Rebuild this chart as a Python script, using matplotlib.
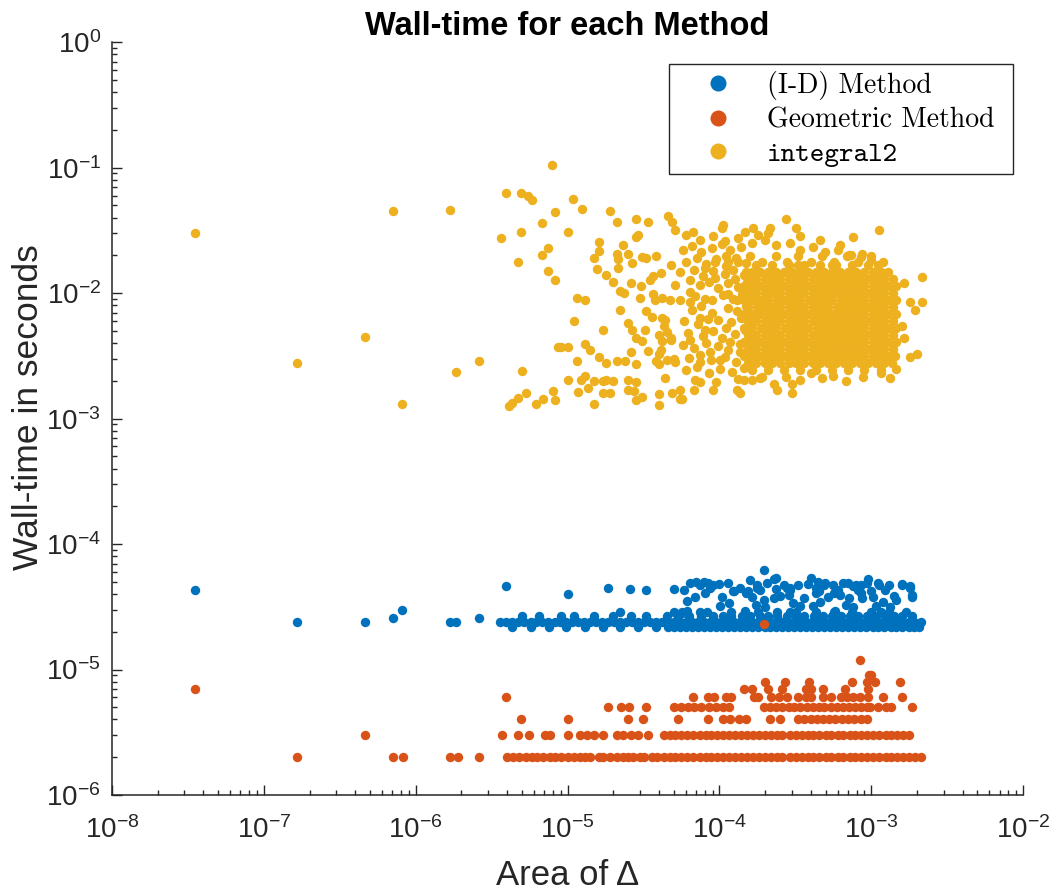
import matplotlib
matplotlib.use('Agg')
import matplotlib.pyplot as plt
from matplotlib.ticker import FixedLocator, LogFormatterSciNotation, NullFormatter

plt.rcParams['font.family'] = ['Liberation Sans', 'DejaVu Sans']
plt.rcParams['axes.unicode_minus'] = False

# ---------------- (I-D) Method ----------------
# loose points (outliers and the upper cloud between 3e-5 and 6e-5)
id_x = [3.5e-8, 1.66e-7, 4.6e-7, 7.1e-7, 8.1e-7, 1.67e-6, 1.85e-6, 2.6e-6, 3.9e-6,
        1.0e-5, 1.84e-5, 2.56e-5, 3.3e-5, 5.0e-5, 5.8e-5, 6.4e-5, 7.5e-5, 8.7e-5, 1.0e-4, 1.13e-4,
        6.1e-5, 1.25e-4, 1.15e-4, 1.6e-4, 1.95e-4, 1.55e-4, 1.78e-4, 1.95e-4, 2.3e-4, 2.35e-4,
        2.65e-4, 2.9e-4, 3.05e-4, 3.3e-4, 3.8e-4, 4.0e-4, 4.3e-4, 4.6e-4, 4.85e-4, 5.6e-4,
        6.2e-4, 7.0e-4, 7.6e-4, 8.5e-4, 9.5e-4, 8.7e-4, 1.12e-3, 1.3e-3, 1.2e-3, 1.6e-3,
        1.8e-3, 1.85e-3, 5.7e-5, 6.1e-5,
        7.0e-5, 7.9e-5, 8.4e-5, 9.1e-5, 1.23e-4, 1.78e-4, 1.5e-4, 2.05e-4, 2.3e-4, 2.35e-4,
        2.8e-4, 2.85e-4, 4.45e-4, 4.5e-4, 4.95e-4, 5.65e-4, 6.5e-4, 7.9e-4, 8.5e-4, 9.3e-4,
        1.0e-3, 1.1e-3, 1.6e-3, 1.8e-3, 1.85e-3,
        1.75e-4, 3.4e-4, 6.8e-4, 1.07e-3, 1.45e-3,
        6.93e-5, 8.06e-5, 1.04e-4, 1.37e-4, 1.65e-4, 1.86e-4, 2.5e-4, 2.9e-4, 3.6e-4, 4.3e-4,
        5.2e-4, 6.05e-4, 7.1e-4, 8.2e-4, 1.03e-3, 1.23e-3, 1.4e-3, 1.01e-4, 1.98e-4, 4.1e-4,
        7.6e-4, 1.33e-3, 7.47e-5, 1.48e-4, 2.9e-4, 5.8e-4, 1.15e-3]
id_y = [4.3e-5, 2.4e-5, 2.4e-5, 2.6e-5, 3.0e-5, 2.4e-5, 2.4e-5, 2.6e-5, 4.6e-5,
        4.0e-5, 4.5e-5, 4.4e-5, 4.3e-5, 4.4e-5, 4.3e-5, 4.9e-5, 4.7e-5, 4.5e-5, 4.8e-5, 4.9e-5,
        3.5e-5, 4.2e-5, 3.4e-5, 5.2e-5, 6.2e-5, 4.2e-5, 4.5e-5, 3.6e-5, 3.7e-5, 5.4e-5,
        4.7e-5, 4.5e-5, 3.4e-5, 4.7e-5, 4.8e-5, 5.4e-5, 4.1e-5, 3.45e-5, 4.7e-5, 4.7e-5,
        3.9e-5, 4.9e-5, 4.6e-5, 4.7e-5, 5.3e-5, 3.7e-5, 4.7e-5, 4.7e-5, 3.45e-5, 4.7e-5,
        4.5e-5, 3.8e-5, 2.85e-5, 2.95e-5,
        5.0e-5, 5.0e-5, 4.9e-5, 4.7e-5, 4.2e-5, 4.7e-5, 4.1e-5, 4.9e-5, 5.3e-5, 4.4e-5,
        4.5e-5, 3.9e-5, 5.0e-5, 4.2e-5, 4.9e-5, 4.1e-5, 4.9e-5, 4.7e-5, 4.1e-5, 4.9e-5,
        4.2e-5, 4.9e-5, 4.8e-5, 4.6e-5, 3.9e-5,
        3.3e-5, 3.2e-5, 3.3e-5, 3.2e-5, 3.6e-5,
        3.78e-5, 4.1e-5, 3.78e-5, 4.46e-5, 3.78e-5, 4.3e-5, 3.85e-5, 4.3e-5, 3.71e-5, 4.46e-5,
        3.78e-5, 4.3e-5, 3.71e-5, 4.3e-5, 3.78e-5, 4.3e-5, 3.85e-5, 3.2e-5, 3.15e-5, 3.2e-5,
        3.15e-5, 3.15e-5, 2.88e-5, 2.94e-5, 2.88e-5, 2.94e-5, 2.88e-5]
# the dense band around 2.4e-5
id_band_mid_x = [3.6e-6, 3.9e-6, 4.3e-6, 4.7e-6, 5.2e-6, 5.7e-6, 6.2e-6, 6.8e-6, 7.4e-6, 8.2e-6,
                 8.9e-6, 9.8e-6, 1.07e-5, 1.17e-5, 1.29e-5, 1.41e-5, 1.54e-5, 1.69e-5, 1.85e-5,
                 2.03e-5, 2.22e-5, 2.43e-5, 2.66e-5, 2.92e-5, 3.2e-5, 3.5e-5, 3.83e-5, 4.2e-5,
                 4.6e-5, 5.04e-5, 5.52e-5, 6.04e-5, 6.62e-5, 7.25e-5, 7.94e-5, 8.7e-5, 9.53e-5,
                 1.04e-4, 1.14e-4, 1.25e-4, 1.37e-4, 1.5e-4, 1.65e-4, 1.8e-4, 1.98e-4, 2.16e-4,
                 2.37e-4, 2.6e-4, 2.84e-4, 3.11e-4, 3.41e-4, 3.74e-4, 4.09e-4, 4.48e-4, 4.91e-4,
                 5.38e-4, 5.89e-4, 6.45e-4, 7.07e-4, 7.74e-4, 8.48e-4, 9.28e-4, 1.02e-3, 1.11e-3,
                 1.22e-3, 1.34e-3, 1.46e-3, 1.6e-3, 1.76e-3, 1.92e-3, 2.11e-3]
id_band_low_x = [4.3e-6, 5.7e-6, 7.5e-6, 9.8e-6, 1.3e-5, 1.7e-5, 2.2e-5, 2.9e-5, 3.8e-5, 4.6e-5,
                 5.0e-5, 5.5e-5, 6.0e-5, 6.6e-5, 7.2e-5, 7.9e-5, 8.7e-5, 9.5e-5, 1.04e-4, 1.14e-4,
                 1.25e-4, 1.37e-4, 1.5e-4, 1.65e-4, 1.8e-4, 1.98e-4, 2.16e-4, 2.37e-4, 2.6e-4,
                 2.84e-4, 3.11e-4, 3.41e-4, 3.74e-4, 4.09e-4, 4.48e-4, 4.91e-4, 5.38e-4, 5.89e-4,
                 6.45e-4, 7.07e-4, 7.74e-4, 8.48e-4, 9.28e-4, 1.02e-3, 1.11e-3, 1.22e-3, 1.34e-3,
                 1.46e-3, 1.6e-3, 1.76e-3, 1.92e-3, 2.05e-3]
id_band_high_x = [5.0e-6, 6.5e-6, 9.0e-6, 1.1e-5, 1.5e-5, 2.0e-5, 2.6e-5, 3.3e-5, 4.5e-5, 5.3e-5,
                  6.3e-5, 7.6e-5, 9.0e-5, 1.05e-4, 1.2e-4, 1.4e-4, 1.6e-4, 1.85e-4, 2.1e-4, 2.4e-4,
                  2.8e-4, 3.2e-4, 3.6e-4, 4.2e-4, 4.8e-4, 5.5e-4, 6.3e-4, 7.2e-4, 8.2e-4, 9.4e-4,
                  1.07e-3, 1.23e-3, 1.4e-3, 1.6e-3, 1.85e-3]
id_band_top_x = [2.2e-5, 5.0e-5, 5.7e-5, 8.3e-5, 1.2e-4, 1.8e-4, 2.4e-4, 3.2e-4, 4.3e-4, 5.7e-4,
                 7.5e-4, 1.0e-3, 1.3e-3, 1.7e-3]
id_band_y = [2.4e-5, 2.2e-5, 2.65e-5, 2.9e-5]   # mid, low, high, top

# ---------------- Geometric Method (values sit on 1e-6 steps) ----------------
geo_2_x = [1.66e-7, 7.1e-7, 8.2e-7, 1.69e-6, 1.9e-6, 2.6e-6,
           4.0e-6, 4.4e-6, 4.8e-6, 5.3e-6, 5.8e-6, 6.3e-6, 6.9e-6, 7.6e-6, 8.3e-6, 9.1e-6,
           1.0e-5, 1.1e-5, 1.2e-5, 1.3e-5, 1.4e-5, 1.6e-5, 1.7e-5, 1.9e-5, 2.1e-5, 2.3e-5,
           2.5e-5, 2.7e-5, 3.0e-5, 3.2e-5, 3.6e-5, 3.9e-5, 4.3e-5, 4.7e-5, 5.1e-5, 5.6e-5,
           6.1e-5, 6.7e-5, 7.4e-5, 8.1e-5, 8.8e-5, 9.7e-5, 1.06e-4, 1.16e-4, 1.27e-4, 1.39e-4,
           1.52e-4, 1.67e-4, 1.83e-4, 2.0e-4, 2.2e-4, 2.4e-4, 2.6e-4, 2.9e-4, 3.2e-4, 3.5e-4,
           3.8e-4, 4.1e-4, 4.5e-4, 5.0e-4, 5.4e-4, 6.0e-4, 6.5e-4, 7.2e-4, 7.8e-4, 8.6e-4,
           9.4e-4, 1.03e-3, 1.13e-3, 1.24e-3, 1.35e-3, 1.48e-3, 1.62e-3, 1.78e-3, 1.95e-3, 2.13e-3]
geo_3_x = [4.6e-7, 3.7e-6, 4.7e-6, 5.6e-6, 7.1e-6, 7.7e-6, 1.0e-5, 1.2e-5, 1.35e-5, 1.5e-5,
           1.7e-5, 2.1e-5, 2.3e-5, 2.6e-5, 2.9e-5, 3.4e-5, 4.3e-5, 4.7e-5, 5.1e-5, 5.6e-5,
           6.1e-5, 6.7e-5, 7.4e-5, 8.1e-5, 8.8e-5, 9.7e-5, 1.06e-4, 1.16e-4, 1.27e-4, 1.39e-4,
           1.52e-4, 1.67e-4, 1.83e-4, 2.0e-4, 2.2e-4, 2.4e-4, 2.6e-4, 2.9e-4, 3.2e-4, 3.5e-4,
           3.8e-4, 4.1e-4, 4.5e-4, 5.0e-4, 5.4e-4, 6.0e-4, 6.5e-4, 7.2e-4, 7.8e-4, 8.6e-4,
           9.4e-4, 1.03e-3, 1.13e-3, 1.24e-3, 1.35e-3, 1.48e-3, 1.62e-3, 1.78e-3]
geo_4_x = [4.9e-6, 1.0e-5, 2.5e-5, 3.15e-5, 5.3e-5, 8.4e-5, 1.05e-4, 1.18e-4, 1.35e-4, 1.5e-4,
           2.16e-4, 2.5e-4, 3.3e-4, 3.6e-4, 4.0e-4, 4.4e-4, 4.8e-4, 5.3e-4, 5.8e-4, 6.4e-4,
           7.0e-4, 7.7e-4, 8.5e-4, 9.4e-4]
geo_5_x = [1.85e-5, 2.25e-5, 2.55e-5, 3.3e-5, 5.0e-5, 5.6e-5, 6.2e-5, 6.8e-5, 7.6e-5, 8.5e-5,
           9.5e-5, 1.05e-4, 1.16e-4, 1.95e-4, 2.15e-4, 2.35e-4, 2.6e-4, 2.85e-4, 3.1e-4, 3.4e-4,
           3.75e-4, 4.1e-4, 4.5e-4, 4.9e-4, 5.4e-4, 5.9e-4, 6.5e-4, 7.1e-4, 7.8e-4, 8.5e-4,
           9.3e-4, 9.8e-4, 1.1e-3, 1.25e-3, 1.35e-3, 1.85e-3]
geo_6_x = [3.9e-6, 6.7e-5, 8.4e-5, 9.2e-5, 1.1e-4, 1.2e-4, 1.7e-4, 1.8e-4, 2.2e-4, 2.45e-4,
           2.8e-4, 3.3e-4, 3.7e-4, 4.0e-4, 4.8e-4, 5.4e-4, 6.3e-4, 6.9e-4, 7.6e-4, 8.4e-4,
           9.5e-4, 1.2e-3, 1.6e-3]
geo_7_x = [3.5e-8, 1.45e-4, 1.65e-4, 2.1e-4, 2.6e-4, 3.7e-4, 4.0e-4, 4.8e-4, 6.7e-4, 9.5e-4]
geo_8_x = [2.0e-4, 2.7e-4, 3.9e-4, 7.5e-4, 9.3e-4, 1.05e-3, 1.55e-3]
geo_9_x = [9.6e-4, 1.0e-3]
geo_levels = [2e-6, 3e-6, 4e-6, 5e-6, 6e-6, 7e-6, 8e-6, 9e-6]
geo_extra_x = [8.4e-4, 1.95e-4]
geo_extra_y = [1.2e-5, 2.3e-5]

# ---------------- integral2 ----------------
int_x = [3.5e-8, 1.66e-7, 4.6e-7, 7.1e-7, 8.1e-7, 1.67e-6, 1.85e-6, 2.6e-6, 3.66e-6, 3.9e-6,
         4.9e-6, 4.9e-6, 4.7e-6, 5.0e-6, 5.5e-6, 5.8e-6, 7.9e-6, 6.8e-6, 7.4e-6, 6.8e-6,
         7.4e-6, 8.2e-6, 8.2e-6, 8.6e-6, 4.1e-6, 4.3e-6, 4.7e-6, 5.3e-6, 6.2e-6, 6.9e-6,
         8.0e-6, 8.3e-6, 1.09e-5, 1.24e-5, 1.89e-5, 2.1e-5, 2.8e-5, 3.4e-5, 4.6e-5, 4.9e-5,
         5.1e-5, 6.0e-5, 1.0e-5, 2.9e-5, 2.8e-5, 1.6e-5, 1.6e-5, 1.5e-5, 1.55e-5, 2.3e-5,
         2.1e-5, 2.15e-5, 2.15e-5, 2.5e-5, 2.65e-5, 3.1e-5, 3.3e-5, 3.8e-5, 1.8e-5, 2.0e-5,
         2.6e-5, 3.05e-5, 2.2e-5, 2.35e-5, 3.65e-5, 4.1e-5, 1.15e-5, 1.3e-5, 3.0e-5, 3.65e-5,
         4.2e-5, 4.7e-5, 2.2e-5, 3.3e-5, 3.6e-5, 1.1e-5, 1.72e-5, 2.5e-5, 2.65e-5, 2.8e-5,
         3.1e-5, 4.2e-5, 4.3e-5, 4.5e-5, 4.0e-5, 4.2e-5, 4.8e-5, 9.0e-6, 1.0e-5, 1.3e-5,
         1.4e-5, 1.16e-5, 1.6e-5, 1.8e-5, 2.1e-5, 2.4e-5, 2.6e-5, 2.8e-5, 3.4e-5, 4.0e-5,
         3.8e-5, 4.0e-5, 4.5e-5, 5.0e-5, 1.0e-5, 1.22e-5, 1.3e-5, 1.37e-5, 1.5e-5, 1.7e-5,
         1.8e-5, 2.0e-5, 1.17e-5, 1.7e-5, 1.9e-5, 1.5e-5, 2.5e-5, 2.8e-5, 2.5e-5, 2.75e-5,
         2.8e-5, 3.1e-5, 4.0e-5, 4.0e-5, 4.85e-5, 5.5e-5, 5.5e-5,
         2.76e-4, 1.12e-3, 7.6e-4, 1.06e-4, 1.04e-4, 1.67e-4, 2.1e-4, 1.8e-4, 3.2e-4, 8.7e-4,
         7.4e-4, 2.16e-3, 1.65e-3, 2.16e-3, 1.8e-3, 1.93e-3, 1.6e-3, 1.65e-3, 2.0e-3, 1.8e-3,
         1.45e-3, 4.0e-4, 5.6e-4, 3.0e-4, 2.3e-4, 2.4e-4, 1.3e-4, 1.37e-4, 3.0e-4, 9.0e-5,
         6.8e-5, 7.5e-5, 5.7e-5, 1.45e-4, 1.65e-4, 1.9e-4,
         7.5e-5, 9.0e-5, 1.09e-4, 1.33e-4, 1.65e-4, 1.98e-4, 2.35e-4, 2.9e-4, 3.4e-4, 4.1e-4,
         4.95e-4, 6.05e-4, 7.1e-4, 8.5e-4, 1.0e-3, 6.7e-5, 1.48e-4, 2.16e-4, 3.4e-4, 4.6e-4,
         6.2e-4,
         1.86e-4, 2.75e-4, 3.4e-4, 4.75e-4, 6.8e-4, 8.8e-4, 1.15e-3, 1.33e-3,
         5.77e-5, 6.62e-5, 7.59e-5, 8.97e-5, 1.04e-4, 1.18e-4, 1.39e-4, 6.04e-5, 7.14e-5, 8.18e-5,
         9.53e-5, 1.13e-4, 1.29e-4, 1.5e-4, 5.52e-5, 6.82e-5, 7.82e-5, 9.1e-5, 1.08e-4, 1.23e-4,
         1.46e-4, 7.47e-5, 8.57e-5, 9.82e-5, 1.14e-4, 1.33e-4, 1.52e-4, 6.93e-5, 8.06e-5, 1.06e-4,
         1.23e-4, 1.41e-4, 6.62e-5, 7.59e-5, 8.97e-5, 1.13e-4, 1.31e-4, 1.5e-4, 5.86e-5, 7.25e-5,
         8.44e-5, 1.2e-4, 1.39e-4, 6.23e-5, 7.82e-5, 9.1e-5, 1.04e-4, 1.27e-4, 1.48e-4, 5.77e-5,
         6.82e-5, 8.18e-5, 9.82e-5, 1.14e-4, 1.37e-4, 6.32e-5, 7.47e-5, 8.83e-5, 1.08e-4, 1.29e-4,
         1.5e-4, 6.04e-5, 7.14e-5, 8.57e-5, 1.01e-4, 1.21e-4, 1.46e-4, 6.93e-5, 9.53e-5, 1.33e-4,
         1.1e-4, 1.6e-4, 2.35e-4, 3.3e-4, 4.75e-4, 6.9e-4, 1.0e-3,
         9.4e-5, 1.33e-4, 1.9e-4, 2.8e-4, 4.0e-4, 5.7e-4, 8.2e-4, 1.2e-3,
         6.4e-5, 8.06e-5, 9.4e-5, 1.1e-4, 1.27e-4, 1.48e-4, 6.4e-5, 8.97e-5, 1.14e-4, 7.47e-5,
         9.82e-5, 1.31e-4, 1.48e-4, 6.4e-5, 8.7e-5, 1.18e-4, 1.48e-4, 7.47e-5, 1.01e-4, 1.37e-4,
         8.06e-5, 1.1e-4, 6.4e-5, 5.52e-5, 5.1e-5, 4.8e-5, 4.4e-5, 4.1e-5, 4.8e-5, 5.1e-5,
         4.4e-5, 3.78e-5, 3.5e-5, 3.24e-5]
int_y = [3.0e-2, 2.8e-3, 4.5e-3, 4.5e-2, 1.3e-3, 4.6e-2, 2.35e-3, 2.9e-3, 2.74e-2, 6.3e-2,
         6.3e-2, 3.06e-2, 1.77e-2, 2.4e-3, 6.0e-2, 5.5e-2, 0.105, 3.6e-2, 2.3e-2, 2.0e-2,
         1.5e-2, 1.28e-2, 4.4e-2, 3.7e-3, 1.27e-3, 1.33e-3, 1.45e-3, 1.6e-3, 1.3e-3, 1.44e-3,
         1.65e-3, 1.4e-3, 5.6e-2, 4.7e-2, 4.5e-2, 3.7e-2, 3.9e-2, 3.7e-2, 4.1e-2, 3.7e-2,
         3.2e-2, 2.9e-2, 3.06e-2, 2.9e-2, 2.8e-2, 2.55e-2, 2.16e-2, 1.92e-2, 1.57e-2, 2.4e-2,
         2.04e-2, 1.88e-2, 1.6e-2, 2.04e-2, 1.73e-2, 1.93e-2, 1.92e-2, 1.98e-2, 1.4e-2, 1.22e-2,
         1.2e-2, 1.14e-2, 1.05e-2, 1.0e-2, 1.38e-2, 1.44e-2, 9.2e-3, 8.8e-3, 9.2e-3, 9.9e-3,
         9.2e-3, 8.8e-3, 7.3e-3, 7.2e-3, 6.5e-3, 6.0e-3, 5.1e-3, 5.8e-3, 5.1e-3, 4.4e-3,
         4.15e-3, 6.3e-3, 5.5e-3, 4.9e-3, 4.6e-3, 4.15e-3, 4.4e-3, 3.7e-3, 3.7e-3, 3.9e-3,
         3.5e-3, 2.9e-3, 3.1e-3, 2.8e-3, 2.9e-3, 2.9e-3, 3.4e-3, 2.75e-3, 3.45e-3, 3.3e-3,
         2.9e-3, 2.75e-3, 2.95e-3, 3.0e-3, 2.05e-3, 2.05e-3, 2.2e-3, 1.75e-3, 2.0e-3, 2.0e-3,
         2.05e-3, 2.0e-3, 1.62e-3, 1.6e-3, 1.6e-3, 1.3e-3, 2.05e-3, 1.95e-3, 1.7e-3, 1.65e-3,
         1.4e-3, 1.48e-3, 1.58e-3, 1.28e-3, 1.6e-3, 1.7e-3, 1.43e-3,
         3.9e-2, 3.2e-2, 2.8e-2, 3.5e-2, 3.3e-2, 3.3e-2, 3.0e-2, 2.9e-2, 3.3e-2, 2.05e-2,
         2.0e-2, 1.35e-2, 1.2e-2, 8.5e-3, 8.5e-3, 7.3e-3, 5.5e-3, 4.4e-3, 3.3e-3, 3.1e-3,
         2.5e-3, 2.3e-3, 2.2e-3, 1.6e-3, 1.9e-3, 1.7e-3, 1.7e-3, 1.6e-3, 1.9e-3, 1.7e-3,
         1.7e-3, 1.95e-3, 1.43e-3, 2.05e-3, 2.05e-3, 2.15e-3,
         2.65e-2, 2.86e-2, 2.61e-2, 2.75e-2, 2.5e-2, 2.65e-2, 2.4e-2, 2.5e-2, 2.2e-2, 2.33e-2,
         2.12e-2, 2.2e-2, 2.02e-2, 1.94e-2, 1.85e-2, 3.07e-2, 3.07e-2, 3.3e-2, 2.86e-2, 2.65e-2,
         2.4e-2,
         2.1e-3, 2.16e-3, 2.03e-3, 2.1e-3, 2.0e-3, 2.16e-3, 2.3e-3, 2.1e-3,
         2.2e-2, 2.37e-2, 2.12e-2, 2.28e-2, 2.46e-2, 2.2e-2, 2.33e-2, 1.77e-2, 1.9e-2, 1.7e-2,
         1.87e-2, 1.77e-2, 1.9e-2, 1.73e-2, 1.47e-2, 1.53e-2, 1.37e-2, 1.5e-2, 1.42e-2, 1.53e-2,
         1.39e-2, 1.16e-2, 1.22e-2, 1.1e-2, 1.2e-2, 1.12e-2, 1.22e-2, 9.5e-3, 8.96e-3, 9.6e-3,
         8.96e-3, 9.8e-3, 7.32e-3, 7.88e-3, 6.93e-3, 7.6e-3, 7.19e-3, 7.88e-3, 5.98e-3, 5.66e-3,
         6.21e-3, 5.87e-3, 6.32e-3, 4.8e-3, 4.54e-3, 4.98e-3, 4.38e-3, 4.71e-3, 5.07e-3, 3.85e-3,
         3.65e-3, 4.0e-3, 3.78e-3, 3.51e-3, 3.92e-3, 3.03e-3, 3.21e-3, 2.93e-3, 3.09e-3, 2.82e-3,
         3.15e-3, 2.43e-3, 2.57e-3, 2.3e-3, 2.48e-3, 2.35e-3, 2.53e-3, 2.03e-3, 1.95e-3, 2.06e-3,
         1.97e-2, 1.97e-2, 1.97e-2, 1.97e-2, 1.97e-2, 1.97e-2, 1.97e-2,
         1.77e-2, 1.77e-2, 1.77e-2, 1.77e-2, 1.77e-2, 1.77e-2, 1.77e-2, 1.77e-2,
         1.28e-2, 1.58e-2, 1.32e-2, 1.64e-2, 1.29e-2, 1.03e-2, 1.03e-2, 8.8e-3, 9.9e-3, 6.32e-3,
         6.1e-3, 8.8e-3, 6.32e-3, 4.22e-3, 3.39e-3, 4.1e-3, 4.1e-3, 2.82e-3, 2.93e-3, 3.39e-3,
         5.07e-3, 5.26e-3, 8.48e-3, 8.8e-3, 1.16e-2, 1.67e-2, 6.1e-3, 3.51e-3, 4.22e-3, 2.82e-3,
         2.1e-3, 8.8e-3, 1.28e-2, 5.07e-3]
# solid core of the cloud, read row by row
int_core_y = [1.67e-2, 1.47e-2, 1.29e-2, 1.14e-2, 1.0e-2, 8.8e-3, 7.7e-3, 6.8e-3,
              6.0e-3, 5.3e-3, 4.6e-3, 4.1e-3, 3.6e-3, 3.15e-3, 2.77e-3, 2.43e-3]
int_core_x = [
    [1.75e-4, 2.23e-4, 2.85e-4, 3.3e-4, 3.63e-4, 4.62e-4, 5.5e-4, 5.89e-4, 7.51e-4, 9.57e-4, 1.1e-3],
    [1.5e-4, 1.65e-4, 1.86e-4, 2.1e-4, 2.37e-4, 2.68e-4, 3.02e-4, 3.41e-4, 3.85e-4, 4.35e-4,
     4.91e-4, 5.54e-4, 6.26e-4, 7.06e-4, 7.97e-4, 9.0e-4, 1.02e-3, 1.15e-3, 1.29e-3],
    [1.55e-4, 1.75e-4, 1.98e-4, 2.23e-4, 2.52e-4, 2.85e-4, 3.21e-4, 3.63e-4, 4.1e-4, 4.62e-4,
     5.22e-4, 5.89e-4, 6.65e-4, 7.51e-4, 8.48e-4, 9.57e-4, 1.08e-3, 1.22e-3, 1.38e-3],
    [1.46e-4, 1.65e-4, 1.86e-4, 2.1e-4, 2.37e-4, 2.68e-4, 3.02e-4, 3.41e-4, 3.85e-4, 4.35e-4,
     4.91e-4, 5.54e-4, 6.26e-4, 7.06e-4, 7.97e-4, 9.0e-4, 1.02e-3, 1.15e-3, 1.29e-3, 1.46e-3],
    [1.55e-4, 1.75e-4, 1.98e-4, 2.23e-4, 2.52e-4, 2.85e-4, 3.21e-4, 3.63e-4, 4.1e-4, 4.62e-4,
     5.22e-4, 5.89e-4, 6.65e-4, 7.51e-4, 8.48e-4, 9.57e-4, 1.08e-3, 1.22e-3, 1.38e-3],
    [1.46e-4, 1.64e-4, 1.86e-4, 2.1e-4, 2.38e-4, 2.68e-4, 3.0e-4, 3.41e-4, 3.86e-4, 4.35e-4,
     4.9e-4, 5.54e-4, 6.3e-4, 7.06e-4, 7.97e-4, 9.0e-4, 1.02e-3, 1.15e-3, 1.3e-3, 1.46e-3],
    [1.55e-4, 1.76e-4, 1.98e-4, 2.22e-4, 2.52e-4, 2.86e-4, 3.21e-4, 3.62e-4, 4.1e-4, 4.6e-4,
     5.22e-4, 5.9e-4, 6.65e-4, 7.5e-4, 8.48e-4, 9.57e-4, 1.08e-3, 1.22e-3, 1.38e-3],
    [1.46e-4, 1.65e-4, 1.86e-4, 2.1e-4, 2.37e-4, 2.68e-4, 3.02e-4, 3.41e-4, 3.85e-4, 4.35e-4,
     4.91e-4, 5.54e-4, 6.26e-4, 7.06e-4, 7.97e-4, 9.0e-4, 1.02e-3, 1.15e-3, 1.29e-3, 1.46e-3],
    [1.55e-4, 1.75e-4, 1.98e-4, 2.23e-4, 2.52e-4, 2.85e-4, 3.21e-4, 3.63e-4, 4.1e-4, 4.62e-4,
     5.22e-4, 5.89e-4, 6.65e-4, 7.51e-4, 8.48e-4, 9.57e-4, 1.08e-3, 1.22e-3, 1.38e-3],
    [1.46e-4, 1.65e-4, 1.87e-4, 2.1e-4, 2.37e-4, 2.69e-4, 3.02e-4, 3.4e-4, 3.85e-4, 4.36e-4,
     4.91e-4, 5.55e-4, 6.26e-4, 7.05e-4, 7.97e-4, 9.0e-4, 1.02e-3, 1.15e-3, 1.29e-3, 1.45e-3],
    [1.55e-4, 1.75e-4, 1.98e-4, 2.23e-4, 2.52e-4, 2.85e-4, 3.21e-4, 3.63e-4, 4.1e-4, 4.62e-4,
     5.22e-4, 5.89e-4, 6.65e-4, 7.51e-4, 8.48e-4, 9.57e-4, 1.08e-3, 1.22e-3, 1.38e-3],
    [1.46e-4, 1.65e-4, 1.86e-4, 2.1e-4, 2.37e-4, 2.68e-4, 3.02e-4, 3.41e-4, 3.85e-4, 4.35e-4,
     4.91e-4, 5.54e-4, 6.26e-4, 7.06e-4, 7.97e-4, 9.0e-4, 1.02e-3, 1.15e-3, 1.29e-3, 1.46e-3],
    [1.55e-4, 1.75e-4, 1.98e-4, 2.23e-4, 2.52e-4, 2.85e-4, 3.21e-4, 3.63e-4, 4.1e-4, 4.62e-4,
     5.22e-4, 5.89e-4, 6.65e-4, 7.51e-4, 8.48e-4, 9.57e-4, 1.08e-3, 1.22e-3, 1.38e-3],
    [1.46e-4, 1.65e-4, 1.86e-4, 2.1e-4, 2.37e-4, 2.68e-4, 3.02e-4, 3.41e-4, 3.85e-4, 4.35e-4,
     4.91e-4, 5.54e-4, 6.26e-4, 7.06e-4, 7.97e-4, 9.0e-4, 1.02e-3, 1.15e-3, 1.29e-3, 1.44e-3],
    [1.55e-4, 1.75e-4, 1.98e-4, 2.23e-4, 2.52e-4, 2.85e-4, 3.21e-4, 3.63e-4, 4.1e-4, 4.62e-4,
     5.22e-4, 5.89e-4, 6.65e-4, 7.51e-4, 8.48e-4, 9.57e-4, 1.08e-3, 1.22e-3, 1.36e-3],
    [1.65e-4, 2.1e-4, 2.68e-4, 3.41e-4, 4.35e-4, 5.54e-4, 7.06e-4, 9.0e-4, 1.15e-3],
]

labels = ['(I-D) Method', 'Geometric Method', 'integral2']
label_fonts = ['cmr10', 'cmr10', 'cmtt10']
colors = ['#0072BD', '#D95319', '#EDB120']
x_ticks = [1e-8, 1e-7, 1e-6, 1e-5, 1e-4, 1e-3, 1e-2]
y_ticks = [1e-6, 1e-5, 1e-4, 1e-3, 1e-2, 1e-1, 1e0]

# assemble each series
id_all_x = id_x + id_band_mid_x + id_band_low_x + id_band_high_x + id_band_top_x
id_all_y = (id_y + [id_band_y[0]] * len(id_band_mid_x) + [id_band_y[1]] * len(id_band_low_x)
            + [id_band_y[2]] * len(id_band_high_x) + [id_band_y[3]] * len(id_band_top_x))

geo_all_x, geo_all_y = [], []
for lvl, xs in zip(geo_levels, [geo_2_x, geo_3_x, geo_4_x, geo_5_x, geo_6_x,
                                geo_7_x, geo_8_x, geo_9_x]):
    geo_all_x += xs
    geo_all_y += [lvl] * len(xs)
geo_all_x += geo_extra_x
geo_all_y += geo_extra_y

int_all_x, int_all_y = list(int_x), list(int_y)
for yv, xs in zip(int_core_y, int_core_x):
    int_all_x += xs
    int_all_y += [yv] * len(xs)

fig = plt.figure(figsize=(10.57, 8.93), dpi=100)
ax = fig.add_axes([0.106, 0.1097, 0.862, 0.843])

dot = 46
ax.scatter(id_all_x, id_all_y, s=dot, c=colors[0], linewidths=0, label=labels[0])
ax.scatter(geo_all_x, geo_all_y, s=dot, c=colors[1], linewidths=0, label=labels[1])
ax.scatter(int_all_x, int_all_y, s=dot, c=colors[2], linewidths=0, label=labels[2])

ax.set_xscale('log')
ax.set_yscale('log')
ax.set_xlim(x_ticks[0], x_ticks[-1])
ax.set_ylim(y_ticks[0], y_ticks[-1])

# major ticks only at the decades inside the axes, minor ticks at 2..9 of each decade
ax.xaxis.set_major_locator(FixedLocator(x_ticks))
ax.yaxis.set_major_locator(FixedLocator(y_ticks))
ax.xaxis.set_major_formatter(LogFormatterSciNotation())
ax.yaxis.set_major_formatter(LogFormatterSciNotation())
ax.xaxis.set_minor_locator(FixedLocator([m * d for d in x_ticks[:-1] for m in range(2, 10)]))
ax.yaxis.set_minor_locator(FixedLocator([m * d for d in y_ticks[:-1] for m in range(2, 10)]))
ax.xaxis.set_minor_formatter(NullFormatter())
ax.yaxis.set_minor_formatter(NullFormatter())

for side in ['top', 'right']:
    ax.spines[side].set_visible(False)
for side in ['left', 'bottom']:
    ax.spines[side].set_color('#262626')
    ax.spines[side].set_linewidth(1.1)

ax.tick_params(which='both', direction='in', colors='#262626', width=1.0,
               top=False, right=False)
ax.tick_params(which='major', length=7, labelsize=20)
ax.tick_params(which='minor', length=3.6)
ax.tick_params(axis='x', which='major', pad=15)
ax.tick_params(axis='y', which='major', pad=8)

ax.set_title('Wall-time for each Method', fontsize=23.5, fontweight='bold',
             color='#000000', pad=5)
ax.set_xlabel('Area of \u0394', fontsize=25, color='#262626')
ax.set_ylabel('Wall-time in seconds', fontsize=25.5, color='#262626')
ax.xaxis.set_label_coords(0.5, -0.085)
ax.yaxis.set_label_coords(-0.074, 0.515)

# legend box spans a fixed width; entries stay on its left
leg = ax.legend(loc='upper right', bbox_to_anchor=(0.6114, 0.5, 0.3776, 0.471),
                mode='expand', borderaxespad=0,
                fontsize=20, frameon=True, fancybox=False, framealpha=1,
                edgecolor='#262626', borderpad=0.25, handlelength=3.0,
                handletextpad=0.27, labelspacing=0.27, markerscale=1.7,
                scatterpoints=1, scatteryoffsets=[0.5])
leg.get_frame().set_linewidth(1.0)
for txt, fam in zip(leg.get_texts(), label_fonts):
    txt.set_fontfamily(fam)
    txt.set_color('#000000')

fig.savefig('out.png', dpi=100)
